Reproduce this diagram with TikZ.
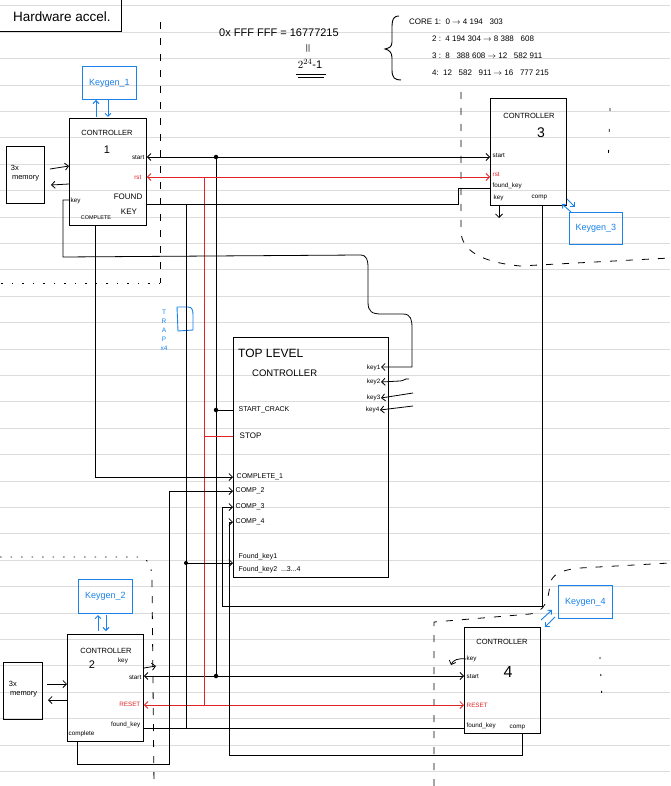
\documentclass[tikz,border=0pt]{standalone}
\usepackage{fontspec}
\setmainfont{Liberation Sans}
\usetikzlibrary{arrows.meta}
\definecolor{kblue}{RGB}{25,130,235}
\definecolor{kred}{RGB}{225,35,35}
\definecolor{paperline}{RGB}{220,220,220}
\tikzset{
  blk/.style={draw, line width=0.9pt, inner sep=0pt, anchor=north west},
  kg/.style={draw=kblue, line width=0.9pt, inner sep=0pt, anchor=north west},
  kgt/.style={text=kblue, font=\fontsize{9}{10}\selectfont, inner sep=0pt},
  wire/.style={line width=0.8pt},
  rwire/.style={line width=0.8pt, draw=kred},
  tip/.style={-{Straight Barb[length=3.5pt,width=7pt]}},
  bitip/.style={{Straight Barb[length=3.5pt,width=7pt]}-{Straight Barb[length=3.5pt,width=7pt]}},
  btip/.style={kblue, line width=0.9pt, -{Straight Barb[length=3pt,width=6pt]}},
  port/.style={font=\fontsize{6.3}{7}\selectfont, inner sep=0.5pt},
  rport/.style={port, text=kred},
  tport/.style={font=\fontsize{7}{8}\selectfont, inner sep=0.5pt, anchor=west},
  ttl/.style={font=\fontsize{7.5}{8}\selectfont, inner sep=0pt},
  num/.style={font=\fontsize{11}{12}\selectfont, inner sep=0pt},
  bound/.style={line width=0.8pt, dash pattern=on 7pt off 9pt},
  dotted bound/.style={line width=0.8pt, dash pattern=on 1.5pt off 9pt},
  jdot/.style={circle, fill, inner sep=0pt, minimum size=4.5pt},
  core/.style={anchor=west, font=\fontsize{8}{9}\selectfont, inner sep=0pt}
}
\begin{document}
\begin{tikzpicture}[x=1pt,y=-1pt]
\fill[white] (0,0) rectangle (670,786);
\useasboundingbox (0,0) rectangle (670,786);
\foreach \k in {-3,...,26} \draw[paperline, line width=0.7pt] (0,{85+26.4*\k}) -- (670,{85+26.4*\k});

% ---------- title and notes
\node[blk, anchor=south east, minimum width=132pt, minimum height=40pt] (title) at (122,32) {};
\node[font=\fontsize{13.5}{14}\selectfont, inner sep=0pt] (titletext) at (62,17) {Hardware accel.};

\node[anchor=west, font=\fontsize{11}{12}\selectfont, inner sep=0pt] (hex) at (219,33) {0x FFF FFF = 16777215};
\node[font=\fontsize{8}{8}\selectfont, inner sep=0pt] (eqv) at (308,48) {||};
\node[font=\fontsize{11}{12}\selectfont, inner sep=0pt] (pow) at (310,64) {$2^{24}$-1};
\draw[line width=0.8pt] (296,74) -- (326,74) (298,77) -- (324,77);
\draw[line width=0.9pt] (399,16) .. controls (391,16) and (392,24) .. (392,35) -- (392,42) .. controls (392,47) and (389,48) .. (385,49) .. controls (389,50) and (392,52) .. (392,58) -- (392,70) .. controls (392,78) and (395,80) .. (401,80);
\node[core] (core1) at (409,22) {CORE 1:\, 0 $\to$ 4 194\;\; 303};
\node[core] (core2) at (432,39) {2 :\, 4 194 304 $\to$ 8 388\;\; 608};
\node[core] (core3) at (432,56) {3 :\, 8\;\; 388 608 $\to$ 12\;\; 582 911};
\node[core] (core4) at (432,73) {4:\, 12\;\; 582\;\; 911 $\to$ 16\;\; 777 215};

% ---------- boundaries
\draw[bound] (160,22) -- (160,283);
\draw[dotted bound] (160,283) -- (0,283);
\draw[bound] (461,92) -- (461,232) .. controls (462,250) and (480,262) .. (520,266) -- (670,258);
\draw[dotted bound, dash pattern=on 3pt off 18pt] (610,108) -- (608,170);
\draw[dotted bound] (0,557) -- (138,557) .. controls (148,558) and (152,565) .. (152,580);
\draw[bound] (152,580) -- (154,786);
\draw[bound] (434,786) -- (434,622) -- (530,614) .. controls (545,612) and (548,600) .. (550,585) .. controls (551,575) and (560,570) .. (580,568) -- (670,563);
\draw[dotted bound, dash pattern=on 2pt off 15pt] (600,657) -- (602,700);

% ---------- blocks
\node[blk, minimum width=77pt, minimum height=107pt] (c1) at (69,118) {};
\node[blk, minimum width=76pt, minimum height=107pt] (c3) at (490,98) {};
\node[blk, minimum width=76pt, minimum height=107pt] (c2) at (67,634) {};
\node[blk, minimum width=76pt, minimum height=106pt] (c4) at (464,627) {};
\node[blk, minimum width=155pt, minimum height=240pt] (top) at (233,337) {};
\node[blk, minimum width=38pt, minimum height=57pt] (m1) at (6,146) {};
\node[blk, minimum width=39pt, minimum height=57pt] (m2) at (3,662) {};
\node[kg, minimum width=54pt, minimum height=33pt] (k1) at (82,66) {};
\node[kg, minimum width=54pt, minimum height=34pt] (k2) at (78,579) {};
\node[kg, minimum width=53pt, minimum height=32pt] (k3) at (569,212) {};
\node[kg, minimum width=54pt, minimum height=33pt] (k4) at (558,585) {};
\node[kgt] (k1t) at (k1.center) {Keygen\_1};
\node[kgt] (k2t) at (k2.center) {Keygen\_2};
\node[kgt] (k3t) at (k3.center) {Keygen\_3};
\node[kgt] (k4t) at (k4.center) {Keygen\_4};

% memory texts
\node[font=\fontsize{7.5}{8.5}\selectfont, align=left, inner sep=0pt] (m1t) at (25,173) {3x\\[1pt]\,memory};
\node[font=\fontsize{7.5}{8.5}\selectfont, align=left, inner sep=0pt] (m2t) at (23,689) {3x\\[1pt]\,memory};

% controller titles
\node[ttl] (c1a) at (107,133) {CONTROLLER};
\node[num] (c1b) at (107,150) {1};
\node[ttl] (c3a) at (529,116) {CONTROLLER};
\node[num, font=\fontsize{14}{14}\selectfont] (c3b) at (541,133) {3};
\node[ttl] (c2a) at (106,651) {CONTROLLER};
\node[num] (c2b) at (92,665) {2};
\node[ttl] (c4a) at (502,642) {CONTROLLER};
\node[num, font=\fontsize{16}{16}\selectfont] (c4b) at (508,672) {4};
\node[anchor=west, font=\fontsize{12}{13}\selectfont, inner sep=0pt] (topa) at (238,353) {TOP LEVEL};
\node[anchor=west, font=\fontsize{9.5}{10}\selectfont, inner sep=0pt] (topb) at (252,373) {CONTROLLER};

% ports controller 1
\node[port, anchor=east] (p1s) at (145,157) {start};
\node[rport, anchor=east] (p1r) at (142,177) {rst};
\node[port, font=\fontsize{8}{9}\selectfont, anchor=east] (p1f) at (143,197) {FOUND};
\node[port, font=\fontsize{8}{9}\selectfont] (p1k) at (129,212) {KEY};
\node[port, anchor=west] (p1key) at (70,201) {key};
\node[port, font=\fontsize{5.5}{6}\selectfont] (p1c) at (96,218) {COMPLETE};
% ports controller 3
\node[port, anchor=west] (p3s) at (492,155) {start};
\node[rport, anchor=west] (p3r) at (492,174) {rst};
\node[port, anchor=west] (p3f) at (492,186) {found\_key};
\node[port, anchor=west] (p3k) at (493,198) {key};
\node[port, anchor=west] (p3c) at (531,197) {comp};
% ports controller 2
\node[port] (p2k) at (123,661) {key};
\node[port, anchor=east] (p2s) at (142,677) {start};
\node[rport, anchor=east] (p2r) at (141,704) {RESET};
\node[port, anchor=east] (p2f) at (141,725) {found\_key};
\node[port, anchor=west] (p2c) at (68,734) {complete};
% ports controller 4
\node[port, anchor=west] (p4k) at (466,659) {key};
\node[port, anchor=west] (p4s) at (466,676) {start};
\node[rport, anchor=west] (p4r) at (466,705) {RESET};
\node[port, anchor=west] (p4f) at (466,726) {found\_key};
\node[port, anchor=west] (p4c) at (509,727) {comp};
% ports top level
\node[tport] (tsc) at (238,410) {START\_CRACK};
\node[tport, font=\fontsize{8}{9}\selectfont] (tst) at (239,436) {STOP};
\node[tport] (tc1) at (236,477) {COMPLETE\_1};
\node[tport] (tc2) at (235,491) {COMP\_2};
\node[tport] (tc3) at (235,507) {COMP\_3};
\node[tport] (tc4) at (235,522) {COMP\_4};
\node[tport] (tf1) at (238,557) {Found\_key1};
\node[tport] (tf2) at (238,570) {Found\_key2\ \ ...3...4};
\node[port, anchor=east] (tk1) at (381,368) {key1};
\node[port, anchor=east] (tk2) at (381,382) {key2};
\node[port, anchor=east] (tk3) at (381,398) {key3};
\node[port, anchor=east] (tk4) at (380,410) {key4};

% TRAP
\node[text=kblue, font=\fontsize{6.5}{9}\selectfont, align=center, inner sep=0pt] (trap) at (164,330) {T\\R\\A\\P\\x4};
\draw[kblue, line width=0.9pt] (177,307) -- (188,307) .. controls (192,307) and (193,310) .. (193,315) -- (193,330) -- (178,331) -- cycle;

% ---------- connection points
\coordinate (j1) at (216,157);
\coordinate (j2) at (216,410);
\coordinate (j3) at (216,676);
\coordinate (r1) at (204,177);
\coordinate (r2) at (204,436);
\coordinate (r3) at (204,705);
\coordinate (f1) at (186,204);
\coordinate (f2) at (186,563);
\coordinate (f3) at (186,728);

% start
\draw[wire, bitip] (c1.east |- j1) -- (c3.west |- j1);
\draw[wire] (j1) -- (j3);
\draw[wire] (j2) -- (top.west |- j2);
\draw[wire, bitip] (c2.east |- j3) -- (c4.west |- j3);
\node[jdot] (d1) at (j1) {};
\node[jdot] (d2) at (j2) {};
\node[jdot] (d3) at (j3) {};
% reset
\draw[rwire, bitip, kred] (c1.east |- r1) -- (c3.west |- r1);
\draw[rwire] (r1) -- (r3);
\draw[rwire] (r2) -- (top.west |- r2);
\draw[rwire, bitip, kred] (c2.east |- r3) -- (c4.west |- r3);
% found key
\coordinate (fk3) at (490,188);
\draw[wire] (c1.east |- f1) -- (458,204) -- (458,188) -- (c3.west |- fk3);
\draw[wire] (f1) -- (f3);
\draw[wire, tip] (f2) -- (top.west |- f2);
\node[jdot, minimum size=4pt] (d4) at (f2) {};
\draw[wire] (c2.east |- f3) -- (c4.west |- f3);
% completes
\coordinate (cc1) at (95,477);
\draw[wire, tip] (c1.south -| cc1) -- (cc1) -- (top.west |- cc1);
\coordinate (cc2) at (77,764);
\coordinate (cc2b) at (169,491);
\draw[wire, tip] (c2.south -| cc2) -- (cc2) -- (169,764) -- (cc2b) -- (top.west |- cc2b);
\coordinate (cc3) at (542,606);
\coordinate (cc3b) at (222,507);
\draw[wire, tip] (c3.south -| cc3) -- (cc3) -- (222,606) -- (cc3b) -- (top.west |- cc3b);
\coordinate (cc4) at (522,755);
\coordinate (cc4b) at (229,522);
\draw[wire, tip] (c4.south -| cc4) -- (cc4) -- (229,755) -- (cc4b) -- (top.west |- cc4b);
% key of controller 1 to key1
\coordinate (kk1) at (63,200);
\draw[wire, tip] (c1.west |- kk1) -- (kk1) -- (63,257) -- (360,255) .. controls (367,255) and (368,260) .. (368,268) -- (368,302) .. controls (368,312) and (372,314) .. (382,314) -- (403,314) .. controls (411,314) and (412,320) .. (412,328) -- (412,367) -- (tk1.east |- 0,367);
% other key inputs
\draw[wire, tip] (409,379) .. controls (405,378) and (404,381) .. (400,381) -- (tk2.east);
\draw[wire, tip] (413,393) -- (tk3.east);
\draw[wire, tip] (413,406) -- (tk4.east);
% local key outputs
\coordinate (k3o) at (499,218);
\draw[wire, tip] (c3.south -| k3o) -- (k3o);
\coordinate (k2o) at (156,666);
\draw[wire, tip] (c2.east |- 0,668) -- (k2o);
\coordinate (k4o) at (451,665);
\draw[wire, tip] (p4k.west) .. controls (458,658) and (453,660) .. (k4o);
% memory arrows
\draw[wire, tip] (50,169) -- (c1.west |- 0,166);
\draw[wire, tip] (c1.west |- 0,184) -- (51,185);
\draw[wire, tip] (47,684) -- (c2.west |- 0,684);
\draw[wire, tip] (c2.west |- 0,700) -- (48,700);
% keygen arrows
\draw[btip] (96,117) -- (96,100);
\draw[btip] (108,100) -- (108,117);
\draw[btip] (98,631) -- (98,615);
\draw[btip] (106,615) -- (106,631);
\draw[btip] (571,212) -- (562,204);
\draw[btip] (567,199) -- (575,207);
\draw[btip] (541,620) -- (552,610);
\draw[btip] (555,617) -- (545,627);
\end{tikzpicture}
\end{document}
